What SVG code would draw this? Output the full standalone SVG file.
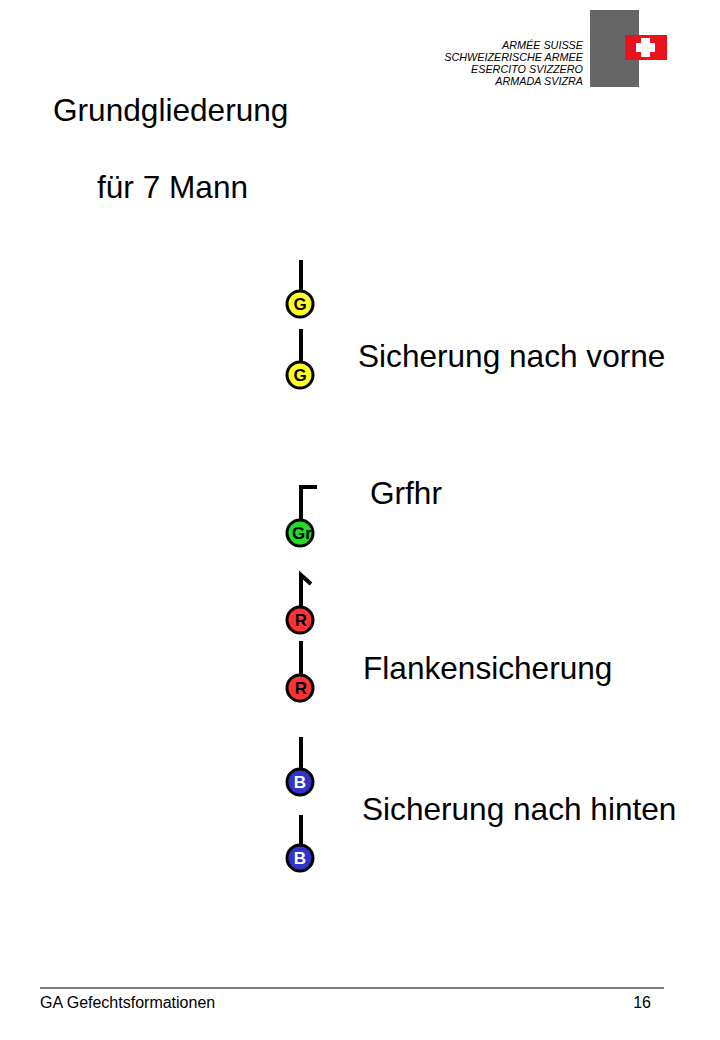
<svg xmlns="http://www.w3.org/2000/svg" width="720" height="1040" viewBox="0 0 720 1040">
<style>
.t{font-family:"Liberation Sans",Arial,sans-serif;fill:#000}
.big{font-size:31.6px}
.lg{font-size:10.8px;font-style:italic}
.n{stroke:#000;stroke-width:3}
.s{stroke:#000;stroke-width:4;fill:none}
.l{font-family:"Liberation Sans",Arial,sans-serif;font-size:17px;font-weight:bold;text-anchor:middle;fill:#000}
</style>
<rect width="720" height="1040" fill="#fff"/>
<g id="logo">
<text class="t lg" text-anchor="end" x="583" y="49">ARMÉE SUISSE</text>
<text class="t lg" text-anchor="end" x="583" y="61">SCHWEIZERISCHE ARMEE</text>
<text class="t lg" text-anchor="end" x="583" y="73">ESERCITO SVIZZERO</text>
<text class="t lg" text-anchor="end" x="583" y="85">ARMADA SVIZRA</text>
<rect x="590" y="10" width="49" height="77" fill="#666"/>
<rect x="625" y="35" width="42" height="25" fill="#e8131b"/>
<rect x="641" y="38" width="9" height="19" fill="#fff"/>
<rect x="636" y="43" width="19" height="9" fill="#fff"/>
</g>
<text class="t big" x="53" y="121">Grundgliederung</text>
<text class="t big" x="97" y="198">für 7 Mann</text>
<g id="connectors">
<line class="s" x1="301" y1="260" x2="301" y2="292"/>
<line class="s" x1="301" y1="329" x2="301" y2="362"/>
<polyline class="s" points="301,520 301,487 317,487"/>
<polyline class="s" points="301,607 301,575 311,584"/>
<line class="s" x1="301" y1="641" x2="301" y2="676"/>
<line class="s" x1="301" y1="737" x2="301" y2="770"/>
<line class="s" x1="301" y1="815" x2="301" y2="846"/>
</g>
<g id="g1"><circle class="n" cx="300" cy="304" r="13" fill="#ffff22"/><text class="l" x="300" y="310">G</text></g>
<g id="g2"><circle class="n" cx="300" cy="375" r="13" fill="#ffff22"/><text class="l" x="300" y="381">G</text></g>
<g id="gr"><circle class="n" cx="300" cy="533" r="13" fill="#22dd22"/><text class="l" x="302" y="539">Gr</text></g>
<g id="r1"><circle class="n" cx="300" cy="620" r="13" fill="#ff3333"/><text class="l" x="301" y="626">R</text></g>
<g id="r2"><circle class="n" cx="300" cy="688" r="13" fill="#ff3333"/><text class="l" x="301" y="694">R</text></g>
<g id="b1"><circle class="n" cx="300" cy="782" r="13" fill="#3333cc"/><text class="l" x="300" y="788" style="fill:#fff">B</text></g>
<g id="b2"><circle class="n" cx="300" cy="858" r="13" fill="#3333cc"/><text class="l" x="300" y="864" style="fill:#fff">B</text></g>
<text class="t big" x="358" y="367">Sicherung nach vorne</text>
<text class="t big" x="370" y="504">Grfhr</text>
<text class="t big" x="363" y="679">Flankensicherung</text>
<text class="t big" x="362" y="820">Sicherung nach hinten</text>
<line x1="40" y1="988" x2="664" y2="988" stroke="#000" stroke-width="1"/>
<text class="t" font-size="16" x="40" y="1008">GA Gefechtsformationen</text>
<text class="t" font-size="16" x="651" y="1008" text-anchor="end">16</text>
</svg>
